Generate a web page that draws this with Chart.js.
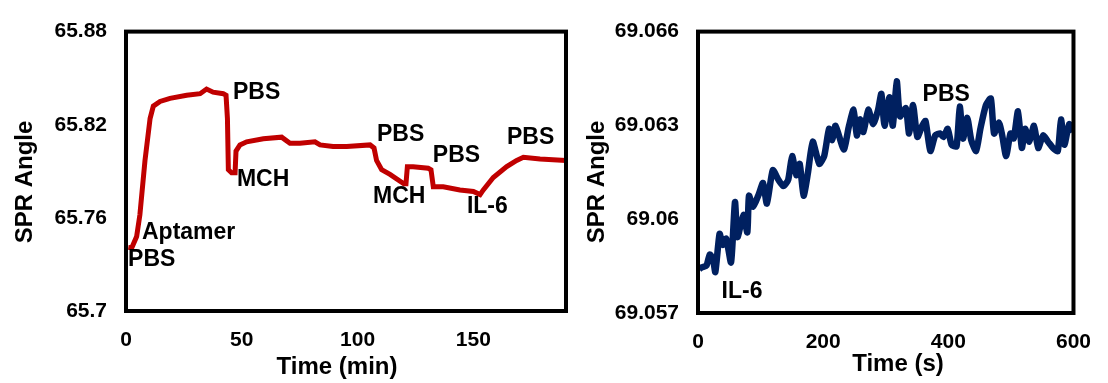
<!DOCTYPE html>
<html>
<head>
<meta charset="utf-8">
<script src="https://cdn.jsdelivr.net/npm/chart.js@4.4.1/dist/chart.umd.min.js"></script>
<style>
    body { margin: 0; background: #fff; width: 1108px; height: 383px; position: relative; overflow: hidden; }
    #left-chart { position: absolute; left: 0; top: 0; }
    #right-chart { position: absolute; left: 580px; top: 0; }
</style>
</head>
<body>
<canvas id="left-chart" width="580" height="383"></canvas>
<canvas id="right-chart" width="528" height="383"></canvas>
<script>
// left panel: sensor chip build-up (time in min)
const leftTime = [1, 2.5, 4.6, 6, 8.2, 10.4, 11.8, 14.7, 19, 26.2, 32, 34.8, 37.6, 42, 43.2, 43.8, 44.2, 45.6, 47.1, 47.5,
    49.2, 52.1, 59.3, 67.2, 70.8, 75.1, 81.6, 83.8, 89.4, 95.3, 105.4, 107.1, 108.2, 110.4, 114, 120, 120.9, 121.5, 124, 130.5,
    131.7, 132.7, 137, 144.2, 150, 152.9, 154.3, 158.6, 164.4, 168.7, 171.6, 178.8, 190];
const leftAngle = [65.741, 65.7407, 65.748, 65.762, 65.797, 65.824, 65.832, 65.835, 65.837, 65.839, 65.840, 65.843, 65.841, 65.840, 65.839, 65.824, 65.791, 65.789, 65.789, 65.803,
    65.807, 65.809, 65.811, 65.812, 65.808, 65.808, 65.809, 65.807, 65.806, 65.806, 65.807, 65.805, 65.797, 65.791, 65.788, 65.782, 65.782, 65.793, 65.793, 65.792,
    65.791, 65.780, 65.780, 65.778, 65.777, 65.775, 65.778, 65.786, 65.793, 65.797, 65.799, 65.798, 65.797];
const leftXTicks = [0, 50, 100, 150];
const leftYTicks = [65.7, 65.76, 65.82, 65.88];
const leftNotes = ["PBS", "Aptamer", "PBS", "MCH", "PBS", "MCH", "PBS", "IL-6", "PBS"];
const leftNoteTime = [0.9, 6.9, 46.2, 47.9, 108.4, 106.7, 132.5, 147.2, 164.5];
const leftNoteAngle = [65.7333, 65.7505, 65.8404, 65.7844, 65.8133, 65.7739, 65.8004, 65.7671, 65.8115];

// right panel: IL-6 binding (time in s)
const rightTime = [2, 5.8, 13.6, 18.8, 24, 27.7, 34.5, 39.6, 45, 52.8, 59.1, 63.1, 72.5, 78.8, 81.5, 88.2, 97.1, 103.9, 110.1, 119.5,
    128.5, 136.3, 144.1, 150.4, 157.1, 162.5, 168.7, 175.5, 183.3, 193.8, 201.6, 209.5, 214.6, 219.8, 232.9, 240.8, 248.6, 253.8, 258.9, 264.3,
    272.1, 280, 287.8, 293, 298.1, 306, 311.3, 317.6, 322.7, 332.1, 337.3, 343.6, 350.5, 358.3, 363.5, 371.3, 379.1, 387, 392.1, 399,
    405.3, 413.1, 418.3, 423.5, 430.3, 436.6, 444.4, 451.2, 460.1, 467.9, 473.1, 480.9, 486.1, 492.4, 499.3, 504.5, 511.3, 517.5, 522.8, 529.5,
    536.9, 543.6, 551.4, 559.3, 567.1, 574.9, 580.1, 585.4, 593.2, 600];
const rightAngle = [69.0584, 69.05846, 69.05852, 69.05887, 69.05872, 69.05831, 69.05953, 69.05918, 69.05938, 69.05862, 69.06055, 69.05943, 69.06014, 69.05958, 69.06075, 69.0604, 69.0608, 69.06116, 69.0605, 69.06157,
    69.06126, 69.06106, 69.06126, 69.06202, 69.06141, 69.06177, 69.06075, 69.06146, 69.06248, 69.06177, 69.06202, 69.06289, 69.06253, 69.06299, 69.06223, 69.06294, 69.0635, 69.06268, 69.06319, 69.06279,
    69.0635, 69.06304, 69.0635, 69.06401, 69.06299, 69.0639, 69.06299, 69.06441, 69.06329, 69.06355, 69.06274, 69.06365, 69.06263, 69.06299, 69.06314, 69.06218, 69.06268, 69.06274, 69.06263, 69.06289,
    69.06238, 69.06233, 69.0636, 69.06258, 69.06324, 69.06253, 69.06218, 69.06289, 69.06365, 69.06386, 69.06274, 69.06309, 69.06268, 69.06202, 69.06274, 69.06258, 69.06345, 69.06228, 69.06289, 69.06248,
    69.06299, 69.06228, 69.06268, 69.06248, 69.06228, 69.06218, 69.06319, 69.06238, 69.06304, 69.0628];
const rightXTicks = [0, 200, 400, 600];
const rightYTicks = [69.057, 69.06, 69.063, 69.066];
const rightNotes = ["PBS", "IL-6"];
const rightNoteTime = [358.8, 37.6];
const rightNoteAngle = [69.06399, 69.05767];

const FONT = "'Liberation Sans', Arial, sans-serif";
Chart.defaults.font.family = FONT;
Chart.defaults.color = "#000";

// black frame around the plot area
const framePlugin = {
    id: "frame",
    afterDraw(chart) {
        const a = chart.chartArea;
        const ctx = chart.ctx;
        ctx.save();
        ctx.strokeStyle = "#000";
        ctx.lineWidth = 4;
        ctx.strokeRect(a.left, a.top, a.right - a.left, a.bottom - a.top);
        ctx.restore();
    }
};

// text notes placed at data coordinates
const notesPlugin = {
    id: "notes",
    afterDatasetsDraw(chart, args, opts) {
        const ctx = chart.ctx;
        ctx.save();
        ctx.font = "bold 23px " + FONT;
        ctx.fillStyle = "#000";
        ctx.textAlign = "left";
        ctx.textBaseline = "middle";
        opts.text.forEach((t, i) => {
            const x = chart.scales.x.getPixelForValue(opts.x[i]);
            const y = chart.scales.y.getPixelForValue(opts.y[i]);
            ctx.fillText(t, x, y);
        });
        ctx.restore();
    }
};

// axis titles
const titlesPlugin = {
    id: "titles",
    afterDraw(chart, args, opts) {
        const ctx = chart.ctx;
        ctx.save();
        ctx.font = "bold 24px " + FONT;
        ctx.fillStyle = "#000";
        ctx.textAlign = "center";
        ctx.textBaseline = "middle";
        ctx.fillText(opts.xText, opts.xPos[0], opts.xPos[1]);
        ctx.translate(opts.yPos[0], opts.yPos[1]);
        ctx.rotate(-Math.PI / 2);
        ctx.fillText(opts.yText, 0, 0);
        ctx.restore();
    }
};

function makeChart(id, cfg) {
    const points = cfg.time.map((t, i) => ({ x: t, y: cfg.angle[i] }));
    return new Chart(document.getElementById(id), {
        type: "line",
        data: {
            datasets: [{
                data: points,
                borderColor: cfg.color,
                borderWidth: cfg.lineWidth,
                pointRadius: 0,
                tension: cfg.tension,
                fill: false
            }]
        },
        options: {
            responsive: false,
            animation: false,
            layout: { padding: cfg.padding },
            plugins: {
                legend: { display: false },
                tooltip: { enabled: false },
                notes: { text: cfg.notes, x: cfg.noteTime, y: cfg.noteAngle },
                titles: cfg.titles
            },
            scales: {
                x: {
                    type: "linear",
                    min: cfg.xMin,
                    max: cfg.xMax,
                    grid: { display: false, drawTicks: false },
                    border: { display: false },
                    afterBuildTicks: s => { s.ticks = cfg.xTicks.map(v => ({ value: v })); },
                    afterFit: s => { s.height = cfg.xAxisHeight; },
                    ticks: {
                        padding: 17,
                        maxRotation: 0,
                        font: { size: 21, weight: "bold" },
                        callback: v => String(v)
                    }
                },
                y: {
                    min: cfg.yMin,
                    max: cfg.yMax,
                    grid: { display: false, drawTicks: false },
                    border: { display: false },
                    afterBuildTicks: s => { s.ticks = cfg.yTicks.map(v => ({ value: v })); },
                    afterFit: s => { s.width = cfg.yAxisWidth; },
                    ticks: {
                        padding: 19,
                        font: { size: 21, weight: "bold" },
                        callback: v => String(v)
                    }
                }
            }
        },
        plugins: [framePlugin, notesPlugin, titlesPlugin]
    });
}

makeChart("left-chart", {
    time: leftTime, angle: leftAngle, color: "#C00000", lineWidth: 5, tension: 0,
    xMin: 0, xMax: 190, yMin: 65.7, yMax: 65.88, xTicks: leftXTicks, yTicks: leftYTicks,
    padding: { top: 19, right: 14, left: 0, bottom: 0 }, yAxisWidth: 126, xAxisHeight: 72,
    notes: leftNotes, noteTime: leftNoteTime, noteAngle: leftNoteAngle,
    titles: { xText: "Time (min)", xPos: [337, 367], yText: "SPR Angle", yPos: [25, 182] }
});

makeChart("right-chart", {
    time: rightTime, angle: rightAngle, color: "#002060", lineWidth: 6.5, tension: 0.2,
    xMin: 0, xMax: 600, yMin: 69.057, yMax: 69.066, xTicks: rightXTicks, yTicks: rightYTicks,
    padding: { top: 18, right: 26, left: 0, bottom: 0 }, yAxisWidth: 118, xAxisHeight: 70,
    notes: rightNotes, noteTime: rightNoteTime, noteAngle: rightNoteAngle,
    titles: { xText: "Time (s)", xPos: [318, 364], yText: "SPR Angle", yPos: [17, 182] }
});
</script>
</body>
</html>
